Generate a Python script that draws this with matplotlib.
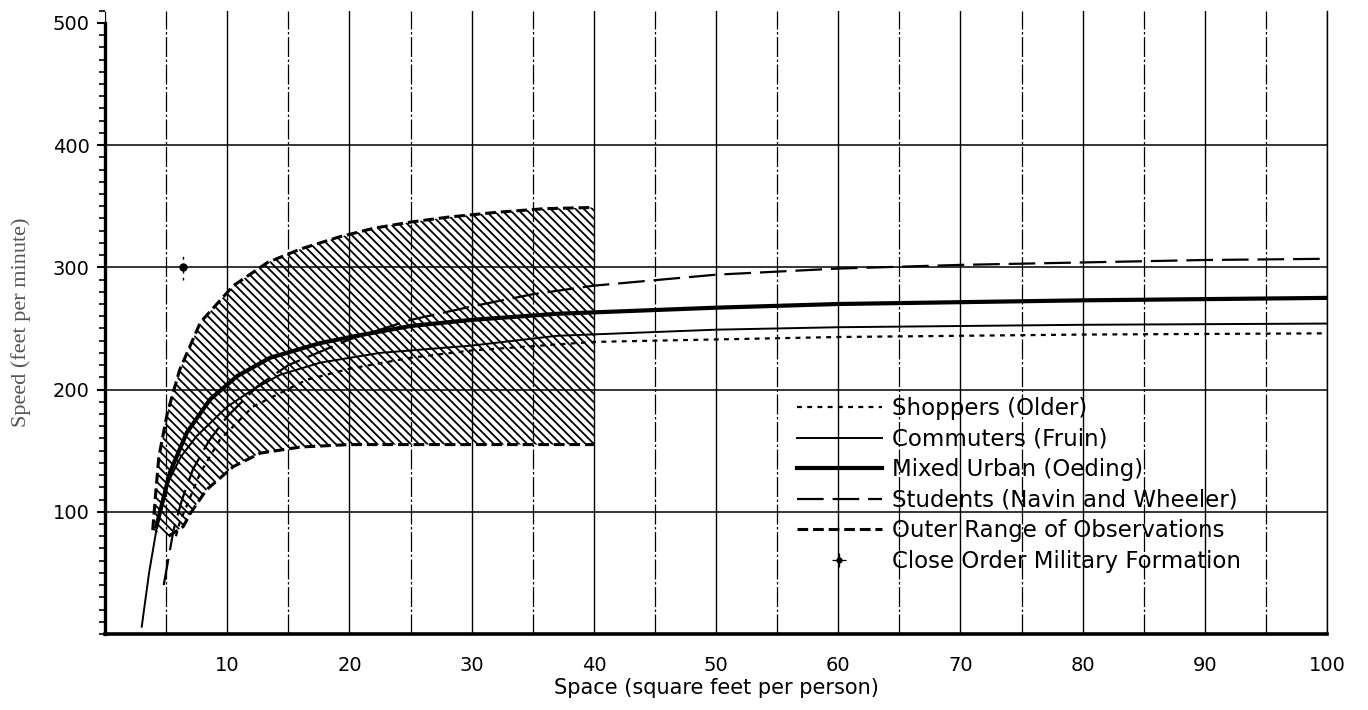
import matplotlib
matplotlib.use('Agg')
from matplotlib import pyplot as plt
from matplotlib.ticker import MultipleLocator
from matplotlib.lines import Line2D
from matplotlib.legend_handler import HandlerTuple

plt.rcParams['font.family'] = ['DejaVu Sans']
plt.rcParams['hatch.linewidth'] = 1.3

# curves (space in sq ft/person, speed in ft/min)
shop_x = [5.8, 6.1, 7.8, 9.4, 12.1, 16.5, 20, 25, 30, 40, 50, 60, 80, 100]
shop_y = [80, 91, 132, 159, 186, 208, 217, 226, 232, 239, 241, 243, 245, 246]

comm_x = [3.0, 3.6, 4.3, 5.2, 6.2, 7.5, 10, 12.1, 14.3, 17.6, 22.5, 30, 37, 50, 60, 80, 100]
comm_y = [6, 50, 91, 125, 145, 162, 186, 200, 212, 222, 230, 236, 244, 249, 251, 253, 254]

urban_x = [4.2, 5.3, 6.7, 8.6, 10.8, 13.5, 17.6, 20.6, 25, 30, 37, 50, 60, 80, 100]
urban_y = [88, 132, 165, 192, 211, 226, 238, 244, 252, 257, 262, 267, 270, 273, 275]

stud_x = [4.8, 5.6, 6.3, 7.2, 8.5, 10, 12.5, 15, 20, 25, 30, 35, 40, 50, 60, 70, 80, 90, 100]
stud_y = [40, 85, 110, 135, 158, 178, 203, 220, 241, 257, 268, 278, 285, 294, 299, 302, 304, 306, 307]

outer_hi_x = [3.9, 4.1, 4.4, 5.1, 6.1, 7.8, 10.5, 13.3, 16, 19.2, 22, 25, 28, 32, 36, 40]
outer_hi_y = [85, 110, 145, 181, 216, 255, 285, 304, 315, 325, 332, 337, 341, 345, 348, 349]
outer_lo_x = [5.2, 6.4, 7.0, 8.3, 10.5, 12.7, 16, 20, 30, 40]
outer_lo_y = [80, 88, 99, 118, 137, 148, 153, 155, 155, 155]

military_x = [6.4]
military_y = [300]
military_spread = [10]

labels = ['Shoppers (Older)', 'Commuters (Fruin)', 'Mixed Urban (Oeding)',
          'Students (Navin and Wheeler)', 'Outer Range of Observations',
          'Close Order Military Formation']

fig = plt.figure(figsize=(13.68, 7.10), dpi=100)
ax = fig.add_axes([0.0768, 0.107, 0.8933, 0.878])

# hatched band of observations
band_x = outer_hi_x + outer_lo_x[::-1]
band_y = outer_hi_y + outer_lo_y[::-1]
ax.fill(band_x, band_y, facecolor='none', edgecolor='black', hatch='\\\\\\\\',
        linewidth=0, zorder=2)
ax.plot(outer_hi_x, outer_hi_y, color='black', lw=2.2, dashes=(3.5, 1.6), zorder=3)
ax.plot(outer_lo_x, outer_lo_y, color='black', lw=2.2, dashes=(3.5, 1.6), zorder=3)

ax.plot(shop_x, shop_y, color='black', lw=1.6, dashes=(2.2, 2.4), zorder=4)
ax.plot(comm_x, comm_y, color='black', lw=1.4, zorder=4)
ax.plot(urban_x, urban_y, color='black', lw=3.0, zorder=5)
ax.plot(stud_x, stud_y, color='black', lw=1.6, dashes=(12, 4), zorder=4)

eb = ax.errorbar(military_x, military_y, yerr=military_spread, fmt='o', ms=5,
                 color='black', elinewidth=1.0, capsize=0, zorder=6)
eb[2][0].set_linestyle((0, (2, 3)))

# grid
for yv in [100, 200, 300, 400]:
    ax.axhline(yv, color='black', lw=1.1, zorder=1)
ax.xaxis.set_major_locator(MultipleLocator(10))
ax.xaxis.set_minor_locator(MultipleLocator(5))
ax.grid(which='major', axis='x', color='black', lw=1.0, ls='-', zorder=1)
ax.grid(which='minor', axis='x', color='black', lw=0.9, ls=(0, (16, 2, 2, 2)), zorder=1)

ax.set_xlim(0, 100)
ax.set_ylim(0, 510)
ax.set_xticks(range(10, 101, 10))
ax.set_yticks(range(100, 501, 100))
ax.yaxis.set_minor_locator(MultipleLocator(10))
ax.tick_params(axis='x', which='both', length=0, pad=16, labelsize=14)
ax.tick_params(axis='y', which='major', length=6, width=1.5, pad=5, labelsize=14)
ax.tick_params(axis='y', which='minor', length=4, width=1.2)

ax.spines['top'].set_visible(False)
ax.spines['left'].set_linewidth(2.4)
ax.spines['left'].set_bounds(0, 500)
ax.spines['bottom'].set_linewidth(2.6)
ax.spines['right'].set_linewidth(1.0)

ax.set_xlabel('Space (square feet per person)', fontsize=15, labelpad=2)
ax.set_ylabel('Speed (feet per minute)', fontsize=16, family='Liberation Serif',
              color='#555555', labelpad=16)

mil_handle = (Line2D([], [], color='black', lw=0, marker='+', ms=10, mew=0.9),
              Line2D([], [], color='black', lw=0, marker='o', ms=3.5))
handles = [
    Line2D([], [], color='black', lw=1.6, dashes=(2.2, 2.4)),
    Line2D([], [], color='black', lw=1.4),
    Line2D([], [], color='black', lw=3.0),
    Line2D([], [], color='black', lw=1.6, dashes=(12, 4)),
    Line2D([], [], color='black', lw=2.2, dashes=(3.5, 1.6)),
    mil_handle,
]
leg = ax.legend(handles, labels, loc='upper left', bbox_to_anchor=(0.566, 0.380),
                frameon=False, fontsize=16.5, handlelength=3.7, handletextpad=0.45,
                labelspacing=0.33, borderpad=0, borderaxespad=0,
                handler_map={tuple: HandlerTuple(ndivide=1)})

fig.savefig('out.png', dpi=100)
